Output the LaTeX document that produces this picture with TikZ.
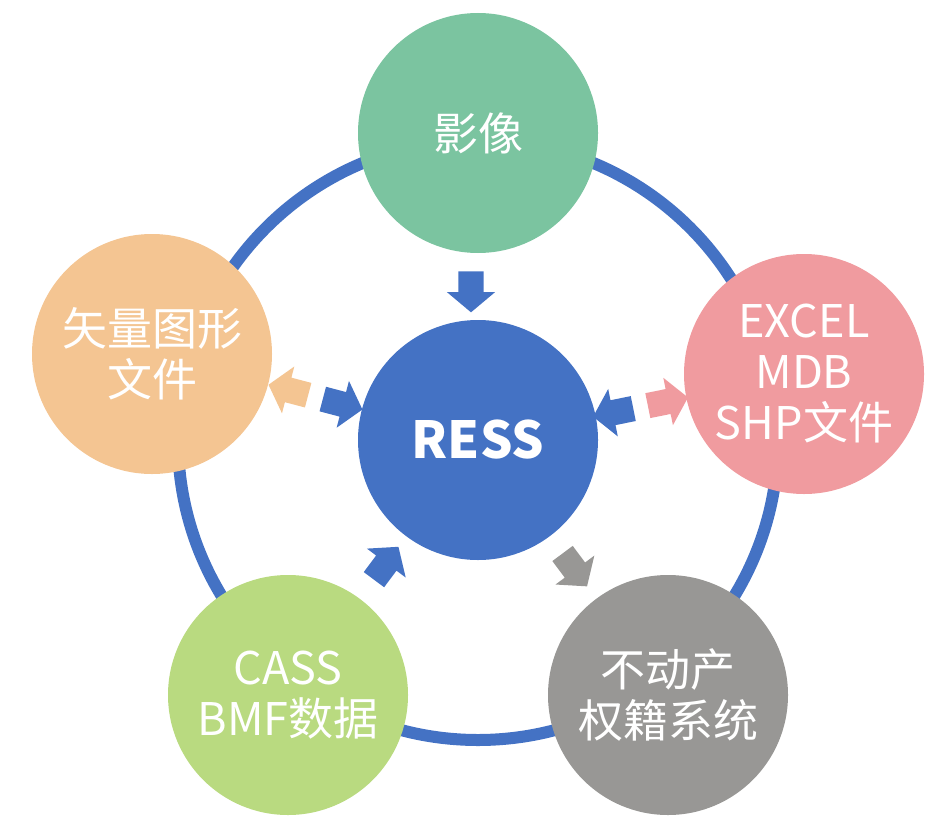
\documentclass[tikz,border=0pt]{standalone}
\usepackage{fontspec}
\newfontfamily\cjk{Noto Sans CJK SC}
\usepackage{tikz}
\usetikzlibrary{shapes.arrows}

\definecolor{ressblue}{RGB}{68,114,196}
\definecolor{imggreen}{RGB}{123,196,160}
\definecolor{vecorange}{RGB}{244,197,146}
\definecolor{xlspink}{RGB}{240,155,159}
\definecolor{casslime}{RGB}{185,218,128}
\definecolor{bdcgray}{RGB}{152,151,149}

\begin{document}
\begin{tikzpicture}[x=1pt,y=-1pt,
        every node/.style={text=white, align=center, font=\cjk\fontsize{45}{51}\selectfont},
        satellite/.style={circle, fill=#1, minimum size=240pt, inner sep=0pt},
        hub/.style={satellite=ressblue, font=\cjk\bfseries\fontsize{51}{56}\selectfont},
        blockarrow/.style={single arrow, fill=#1, inner sep=0pt, inner ysep=12.5pt,
            minimum height=41pt, single arrow head extend=11.5pt,
            single arrow tip angle=100, sloped, allow upside down}]

    \useasboundingbox (0,0) rectangle (949,824);

    \coordinate (mid) at (478,440);
    \draw[ressblue, line width=12pt] (mid) circle[radius=300pt];

    \node[hub]                  (ress)  at (478,440) {RESS};
    \node[satellite=imggreen]   (img)   at (478,133) {影像};
    \node[satellite=vecorange]  (vec)   at (152,354) {矢量图形\\文件};
    \node[satellite=xlspink]    (excel) at (804,374) {EXCEL\\MDB\\SHP文件};
    \node[satellite=casslime]   (cass)  at (288,695) {CASS\\BMF数据};
    \node[satellite=bdcgray]    (bdc)   at (668,695) {不动产\\权籍系统};

    \path ([xshift=-7pt]img.south) -- ([xshift=-7pt]ress.north)
          node[midway, blockarrow=ressblue] {};
    \path (vec) -- (ress)
          node[pos=.27, blockarrow=vecorange, shape border rotate=180] {}
          node[pos=.74, blockarrow=ressblue] {};
    \path (ress) -- (excel)
          node[pos=.25, blockarrow=ressblue, shape border rotate=180] {}
          node[pos=.74, blockarrow=xlspink] {};
    \path (cass) -- (ress) node[pos=.5, blockarrow=ressblue] {};
    \path (ress) -- (bdc)  node[pos=.47, blockarrow=bdcgray] {};
\end{tikzpicture}
\end{document}
